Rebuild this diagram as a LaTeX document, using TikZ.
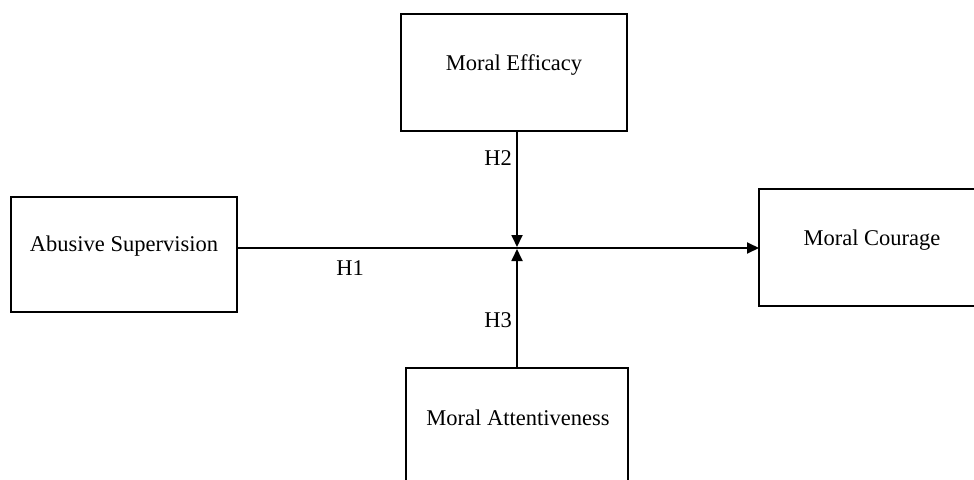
\documentclass[tikz,border=0pt]{standalone}
\usepackage{fontspec}
\setmainfont{Liberation Serif}
\usetikzlibrary{arrows.meta}
\begin{document}
\begin{tikzpicture}[x=1pt,y=-1pt,
  box/.style={draw, line width=1.8pt, inner sep=0pt, outer sep=0pt},
  lbl/.style={font=\fontsize{22.5}{27}\selectfont, inner sep=0pt},
  conn/.style={line width=1.8pt, -{Triangle[length=12pt,width=11pt]}},
  plain/.style={line width=1.8pt}]
\clip (0,0) rectangle (974,479);
\fill[white] (0,0) rectangle (974,479);
% boxes
\node[box, minimum width=226pt, minimum height=117pt] (me) at (514,72.5) {};
\node[box, minimum width=226pt, minimum height=115pt] (as) at (124,254.5) {};
\node[box, minimum width=226pt, minimum height=117pt] (mc) at (872,247.5) {};
\node[box, minimum width=222pt, minimum height=117pt] (ma) at (517,426.5) {};
% texts
\node[lbl] (metxt) at (514,65) {Moral Efficacy};
\node[lbl] (astxt) at (124,246) {Abusive Supervision};
\node[lbl] (mctxt) at (872,240) {Moral Courage};
\node[lbl] (matxt) at (518,418) {Moral Attentiveness};
% junction
\coordinate (j) at (517,248);
% connectors
\draw[conn] (as.east |- j) -- (mc.west |- j);
\draw[conn, shorten >=1pt] (me.south -| j) -- (j);
\draw[conn, shorten >=1pt] (ma.north -| j) -- (j);
% hypothesis labels
\node[lbl] (h1) at (350,268) {H1};
\node[lbl] (h2) at (498,158) {H2};
\node[lbl] (h3) at (498,320) {H3};
\end{tikzpicture}
\end{document}
